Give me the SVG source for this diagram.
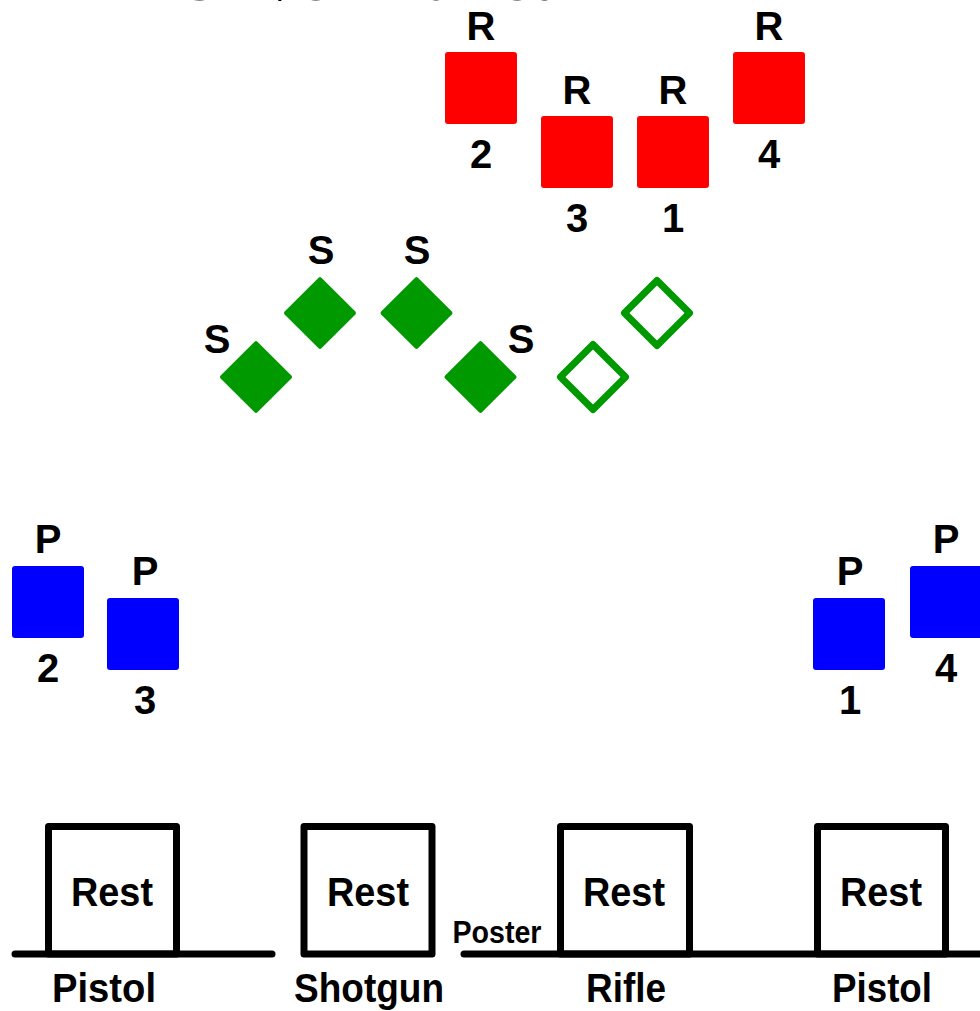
<svg xmlns="http://www.w3.org/2000/svg" width="980" height="1011" viewBox="0 0 980 1011">
<style>
.lbl{font-family:"Liberation Sans",Arial,sans-serif;font-weight:bold;font-size:40px;fill:#000;text-anchor:middle}
.small{font-size:31px}
.title{font-family:"Liberation Serif","Times New Roman",serif;font-size:72px;fill:#000}
.red{fill:#FF0000}
.green{fill:#009900}
.hollow{fill:none;stroke:#009900;stroke-width:7;stroke-linejoin:round}
.blue{fill:#0000FF}
.box{fill:none;stroke:#000;stroke-width:7;stroke-linejoin:round}
.ground{stroke:#000;stroke-width:7;stroke-linecap:round;fill:none}
</style>
<rect width="980" height="1011" fill="#fff"/>
<text class="title" x="180" y="0" textLength="372" lengthAdjust="spacingAndGlyphs">Silver Bullet</text>

<g id="rifle-targets">
  <g id="r2"><text class="lbl" x="481" y="40">R</text><rect class="red" x="445" y="52" width="72" height="72" rx="3"/><text class="lbl" x="481" y="168">2</text></g>
  <g id="r3"><text class="lbl" x="577" y="104">R</text><rect class="red" x="541" y="116" width="72" height="72" rx="3"/><text class="lbl" x="577" y="232">3</text></g>
  <g id="r1"><text class="lbl" x="673" y="104">R</text><rect class="red" x="637" y="116" width="72" height="72" rx="3"/><text class="lbl" x="673" y="232">1</text></g>
  <g id="r4"><text class="lbl" x="769" y="40">R</text><rect class="red" x="733" y="52" width="72" height="72" rx="3"/><text class="lbl" x="769" y="168">4</text></g>
</g>

<g id="shotgun-targets">
  <g id="s1"><text class="lbl" x="217" y="353">S</text><rect class="green" x="-26" y="-26" width="52" height="52" rx="2" transform="translate(256 377) rotate(45)"/></g>
  <g id="s2"><text class="lbl" x="321" y="264">S</text><rect class="green" x="-26" y="-26" width="52" height="52" rx="2" transform="translate(320 313) rotate(45)"/></g>
  <g id="s3"><text class="lbl" x="417" y="264">S</text><rect class="green" x="-26" y="-26" width="52" height="52" rx="2" transform="translate(416.5 313) rotate(45)"/></g>
  <g id="s4"><text class="lbl" x="521" y="353">S</text><rect class="green" x="-26" y="-26" width="52" height="52" rx="2" transform="translate(480.5 377) rotate(45)"/></g>
  <g id="s5"><rect class="hollow" x="-23" y="-23" width="46" height="46" transform="translate(593 377) rotate(45)"/></g>
  <g id="s6"><rect class="hollow" x="-23" y="-23" width="46" height="46" transform="translate(657 313) rotate(45)"/></g>
</g>

<g id="pistol-targets">
  <g id="p2"><text class="lbl" x="48" y="553">P</text><rect class="blue" x="12" y="566" width="72" height="72" rx="3"/><text class="lbl" x="48" y="682">2</text></g>
  <g id="p3"><text class="lbl" x="145" y="585">P</text><rect class="blue" x="107" y="598" width="72" height="72" rx="3"/><text class="lbl" x="145" y="714">3</text></g>
  <g id="p1"><text class="lbl" x="850" y="585">P</text><rect class="blue" x="813" y="598" width="72" height="72" rx="3"/><text class="lbl" x="850" y="714">1</text></g>
  <g id="p4"><text class="lbl" x="946" y="553">P</text><rect class="blue" x="910" y="566" width="72" height="72" rx="3"/><text class="lbl" x="946" y="682">4</text></g>
</g>

<g id="ground">
  <line class="ground" x1="15" y1="954" x2="272" y2="954"/>
  <line class="ground" x1="464" y1="954" x2="990" y2="954"/>
</g>

<g id="rest-pistol-left">
  <rect class="box" x="48.5" y="826.5" width="128" height="127.5"/>
  <text class="lbl" x="112" y="906" textLength="82" lengthAdjust="spacingAndGlyphs">Rest</text>
  <text class="lbl" x="104" y="1002" textLength="104" lengthAdjust="spacingAndGlyphs">Pistol</text>
</g>
<g id="rest-shotgun">
  <rect class="box" x="304" y="826.5" width="128" height="127.5"/>
  <text class="lbl" x="368" y="906" textLength="82" lengthAdjust="spacingAndGlyphs">Rest</text>
  <text class="lbl" x="369" y="1002" textLength="150" lengthAdjust="spacingAndGlyphs">Shotgun</text>
</g>
<g id="poster">
  <text class="lbl small" x="497" y="943" textLength="89" lengthAdjust="spacingAndGlyphs">Poster</text>
</g>
<g id="rest-rifle">
  <rect class="box" x="560.5" y="826.5" width="129" height="127.5"/>
  <text class="lbl" x="624" y="906" textLength="82" lengthAdjust="spacingAndGlyphs">Rest</text>
  <text class="lbl" x="626" y="1002" textLength="80" lengthAdjust="spacingAndGlyphs">Rifle</text>
</g>
<g id="rest-pistol-right">
  <rect class="box" x="817.5" y="826.5" width="128" height="127.5"/>
  <text class="lbl" x="881" y="906" textLength="82" lengthAdjust="spacingAndGlyphs">Rest</text>
  <text class="lbl" x="882" y="1002" textLength="100" lengthAdjust="spacingAndGlyphs">Pistol</text>
</g>
</svg>
